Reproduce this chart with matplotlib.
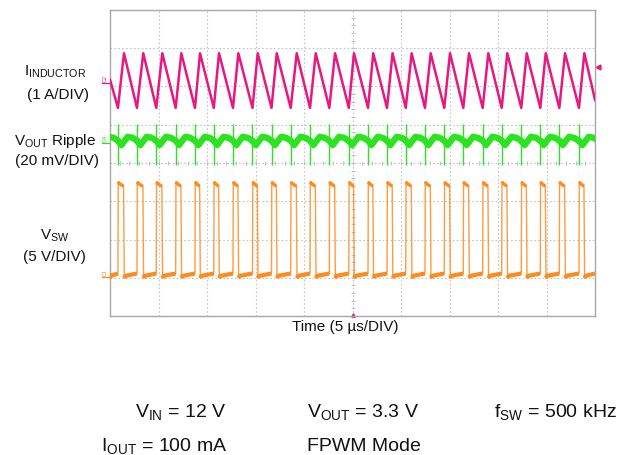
import matplotlib
matplotlib.use('Agg')
import matplotlib.pyplot as plt

plt.rcParams['font.family'] = ['Liberation Sans', 'DejaVu Sans']
plt.rcParams['mathtext.fontset'] = 'custom'
plt.rcParams['mathtext.rm'] = 'Liberation Sans'
plt.rcParams['mathtext.it'] = 'Liberation Sans:italic'
plt.rcParams['mathtext.bf'] = 'Liberation Sans:bold'

# ---- data (time in us, 5 us/div, 10 div) ----
t_on_us = [0.82, 2.78, 4.77, 6.77, 8.76, 10.70, 12.68, 14.69, 16.65, 18.63,
           20.62, 22.61, 24.62, 26.60, 28.56, 30.49, 32.47, 34.46, 36.42,
           38.42, 40.38, 42.40, 44.36, 46.32, 48.35]
t_off_us = [1.44, 3.43, 5.39, 7.35, 9.28, 11.24, 13.23, 15.23, 17.19, 19.25,
            21.21, 23.20, 25.15, 27.14, 29.13, 31.10, 33.06, 35.05, 37.01,
            39.00, 40.96, 42.96, 44.92, 46.91, 48.90]

# inductor current (A), channel 2, 1 A/div
il_start_A = 0.05
il_end_A = -0.48
il_valley_A = -0.69
il_peak_A = 0.74

# output ripple (mV), channel 4, 20 mV/div: shape of one cycle after turn-on
vout_dt_us = [0.0, 0.35, 1.0, 1.5, 1.98]
vout_mV = [0.5, -1.8, 2.5, 2.0, 0.5]
vout_spike_hi_mV = 9.0
vout_spike_lo_mV = -12.0

# switch node (V), channel 1, 5 V/div
vsw_low_V = [0.2, -0.4, -0.1, 0.2]     # after fall ... before next rise
vsw_high_V = [12.2, 12.0, 11.6]        # overshoot, flat start, flat end

# channel offsets in divisions from bottom of screen
ch2_off, ch2_scale = 6.13, 1.0
ch4_off, ch4_scale = 4.56, 20.0
ch1_off, ch1_scale = 1.07, 5.0
trig_A = 0.38

pink = '#e8197d'
green = '#2be31f'
orange = '#ff8a1e'

W, H = 643, 455
fig = plt.figure(figsize=(W / 100, H / 100), dpi=100)
fig.patch.set_facecolor('white')


def fx(x):
    return x / W


def fy(y):
    return 1 - y / H


ax = fig.add_axes([fx(110), fy(316), (595 - 110) / W, (316 - 10) / H])
ax.set_xlim(0, 50)
ax.set_ylim(0, 8)
ax.set_xticks([])
ax.set_yticks([])
for s in ax.spines.values():
    s.set_color('#a8a8a8')
    s.set_linewidth(1.0)

# graticule
for gx in range(5, 50, 5):
    ax.axvline(gx, color='#c4c4c4', lw=0.8, ls=(0, (1.5, 2)), zorder=0)
for gy in range(1, 8):
    ax.axhline(gy, color='#c4c4c4', lw=0.8, ls=(0, (1.5, 2)), zorder=0)
yt = [i * 0.2 for i in range(1, 40)]
ax.plot([25] * len(yt), yt, ls='none', marker='_', ms=3, mew=0.7, color='#c0c0c0', zorder=0)
xt = [i * 1.0 for i in range(1, 50)]
ax.plot(xt, [4] * len(xt), ls='none', marker='|', ms=3, mew=0.7, color='#c0c0c0', zorder=0)

# ---- switch node ----
sw_t, sw_v = [0.0], [ch1_off + vsw_low_V[3] / ch1_scale]
for k in range(len(t_on_us)):
    a, b = t_on_us[k], t_off_us[k]
    nxt = t_on_us[k + 1] if k + 1 < len(t_on_us) else 50.0
    sw_t += [a, a + 0.03, a + 0.12, b - 0.04, b + 0.03, b + 0.12, nxt - 0.02]
    vals = [vsw_low_V[3], vsw_high_V[0], vsw_high_V[1], vsw_high_V[2],
            vsw_low_V[1], vsw_low_V[2], vsw_low_V[3]]
    sw_v += [ch1_off + v / ch1_scale for v in vals]
ax.plot(sw_t, sw_v, color=orange, lw=1.0, alpha=0.85, zorder=3)
# thicker flats (noise band)
low_starts = [0.0] + [b + 0.03 for b in t_off_us]
low_ends = t_on_us + [50.0]
for s0, s1 in zip(low_starts, low_ends):
    ax.plot([s0, s0 + 0.1, s1], [ch1_off + v / ch1_scale for v in vsw_low_V[1:]],
            color=orange, lw=3.0, solid_capstyle='butt', zorder=3)
for a, b in zip(t_on_us, t_off_us):
    ax.plot([a + 0.03, a + 0.12, b - 0.04],
            [ch1_off + v / ch1_scale for v in vsw_high_V],
            color=orange, lw=2.4, solid_capstyle='butt', zorder=3)

# ---- output ripple ----
period0 = t_on_us[1] - t_on_us[0]
starts = [t_on_us[0] - period0] + t_on_us
vo_t, vo_v = [], []
for s0 in starts:
    vo_t += [s0 + d for d in vout_dt_us]
    vo_v += [ch4_off + v / ch4_scale for v in vout_mV]
ax.plot(vo_t, vo_v, color=green, lw=4.6, zorder=4)
ax.vlines(t_on_us, ch4_off + vout_spike_lo_mV / ch4_scale,
          ch4_off + vout_spike_hi_mV / ch4_scale, color=green, lw=1.0, zorder=4)

# ---- inductor current ----
il_t = [0.0]
il_v = [ch2_off + il_start_A / ch2_scale]
for a, b in zip(t_on_us, t_off_us):
    il_t += [a, b]
    il_v += [ch2_off + il_valley_A / ch2_scale, ch2_off + il_peak_A / ch2_scale]
il_t.append(50.0)
il_v.append(ch2_off + il_end_A / ch2_scale)
ax.plot(il_t, il_v, color=pink, lw=1.8, zorder=5)

# channel ground markers
for off, col, name in [(ch2_off, pink, 'C2'), (ch4_off, green, 'C4'), (ch1_off, orange, 'C1')]:
    ax.text(-0.45, off + 0.08, name, rotation=90, fontsize=4, color=col,
            ha='center', va='center', clip_on=False)
    ax.plot([-0.8, -0.1], [off - 0.05, off - 0.05], color=col, lw=0.9, clip_on=False)
ax.plot([50.35], [ch2_off + trig_A / ch2_scale], marker='<', ms=3.5, color=pink,
        clip_on=False, ls='none')
ax.plot([25], [0.03], marker='^', ms=2.5, color=pink, clip_on=False, ls='none')

# ---- labels ----
lab = dict(fontsize=11, ha='center', color='#111111')
fig.text(fx(55), fy(76), r'$\mathrm{I_{INDUCTOR}}$', va='baseline', **lab)
fig.text(fx(58), fy(95), '(1 A/DIV)', va='center', **lab)
fig.text(fx(55), fy(145), r'$\mathrm{V_{OUT}}$ Ripple', va='baseline', **lab)
fig.text(fx(57), fy(161), '(20 mV/DIV)', va='center', **lab)
fig.text(fx(55), fy(240), r'$\mathrm{V_{SW}}$', va='baseline', **lab)
fig.text(fx(54), fy(256.5), '(5 V/DIV)', va='center', **lab)

fig.text(fx(345), fy(331.5), 'Time (5 µs/DIV)', fontsize=11, ha='center',
         va='baseline', color='#111111')

cond = dict(fontsize=14, va='baseline', color='#111111')
fig.text(fx(227), fy(417), r'$\mathrm{V_{IN}}$ = 12 V', ha='right', **cond)
fig.text(fx(307), fy(417), r'$\mathrm{V_{OUT}}$ = 3.3 V', ha='left', **cond)
fig.text(fx(494), fy(417), r'$\mathrm{f_{SW}}$ = 500 kHz', ha='left', **cond)
fig.text(fx(227), fy(451), r'$\mathrm{I_{OUT}}$ = 100 mA', ha='right', **cond)
fig.text(fx(307), fy(451), 'FPWM Mode', ha='left', **cond)

fig.savefig('out.png', dpi=100, facecolor='white')
